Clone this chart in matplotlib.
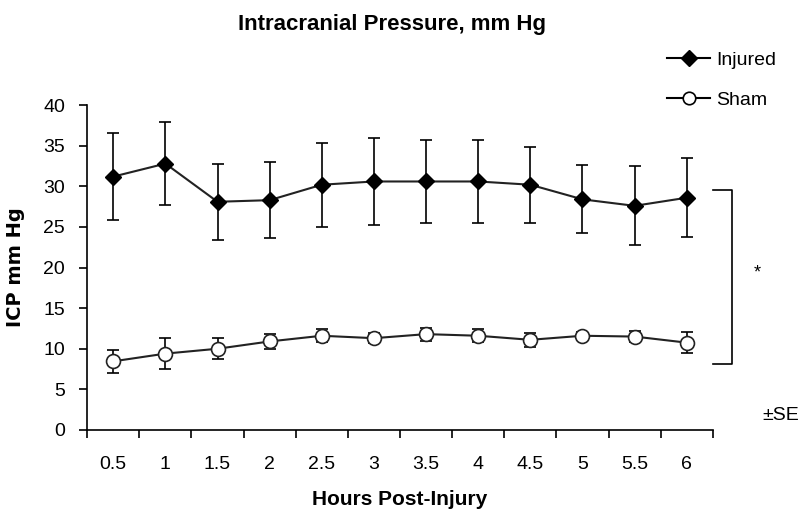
import matplotlib.pyplot as plt
from matplotlib.lines import Line2D

plt.rcParams['font.family'] = ['Liberation Sans', 'DejaVu Sans']

hours = ['0.5', '1', '1.5', '2', '2.5', '3', '3.5', '4', '4.5', '5', '5.5', '6']
injured = [31.2, 32.8, 28.1, 28.3, 30.2, 30.6, 30.6, 30.6, 30.2, 28.4, 27.6, 28.6]
injured_se = [5.4, 5.1, 4.7, 4.7, 5.2, 5.3, 5.1, 5.1, 4.7, 4.2, 4.85, 4.85]
sham = [8.45, 9.4, 10.0, 10.9, 11.6, 11.3, 11.8, 11.6, 11.1, 11.6, 11.5, 10.75]
sham_se = [1.4, 1.9, 1.3, 0.9, 0.8, 0.6, 0.8, 0.8, 0.9, 0.5, 0.7, 1.3]

fig = plt.figure(figsize=(8, 5.18), dpi=100)
ax = fig.add_axes([0.109, 0.170, 0.782, 0.627])

x = list(range(len(hours)))
ax.errorbar(x, injured, yerr=injured_se, color='#222222', lw=1.5, marker='D',
            ms=8, mfc='black', mec='black', ecolor='black', elinewidth=1.2,
            capsize=4, capthick=1.2, zorder=3)
ax.errorbar(x, sham, yerr=sham_se, color='#222222', lw=1.5, marker='o',
            ms=10, mfc='white', mec='#222222', mew=1.2, ecolor='black',
            elinewidth=1.2, capsize=4, capthick=1.2, zorder=3)

ax.set_xlim(-0.5, len(hours) - 0.5)
ax.set_ylim(0, 40)
ax.set_yticks(range(0, 41, 5))
ax.set_xticks([i - 0.5 for i in range(len(hours) + 1)])
ax.set_xticklabels([])
ax.set_xticks(x, minor=True)
ax.set_xticklabels(hours, minor=True)
ax.tick_params(axis='x', which='minor', length=0, pad=19, labelsize=14)
ax.tick_params(axis='x', which='major', length=6, width=1.2)
ax.tick_params(axis='y', length=6, width=1.2, labelsize=14, pad=10)
for s in ['top', 'right']:
    ax.spines[s].set_visible(False)
for s in ['left', 'bottom']:
    ax.spines[s].set_linewidth(1.2)

ax.set_ylabel('ICP mm Hg', fontsize=14, fontweight='bold', family='DejaVu Sans',
              va='center')
ax.yaxis.set_label_coords(-0.115, 0.5)
ax.set_xlabel('Hours Post-Injury', fontsize=15, fontweight='bold', va='center')
ax.xaxis.set_label_coords(0.5, -0.215)
fig.text(0.49, 0.952, 'Intracranial Pressure, mm Hg', fontsize=16, fontweight='bold',
         ha='center', va='center')

# significance bracket
ax.plot([11.5, 11.87, 11.87, 11.5], [29.5, 29.5, 8.1, 8.1], color='black', lw=1.2,
        clip_on=False)
ax.text(12.35, 19.3, '*', fontsize=13, ha='center', va='center')
ax.text(12.8, 1.8, '±SE', fontsize=14, ha='center', va='center')

handles = [
    Line2D([], [], color='black', lw=1.5, marker='D', ms=8, mfc='black', mec='black'),
    Line2D([], [], color='black', lw=1.5, marker='o', ms=9, mfc='white', mec='black', mew=1.2),
]
fig.legend(handles, ['Injured', 'Sham'], loc='center left', bbox_to_anchor=(0.834, 0.846),
           frameon=False, fontsize=14, handlelength=2.2, handletextpad=0.3,
           labelspacing=1.15, borderaxespad=0, borderpad=0)

fig.savefig('out.png', dpi=100)
